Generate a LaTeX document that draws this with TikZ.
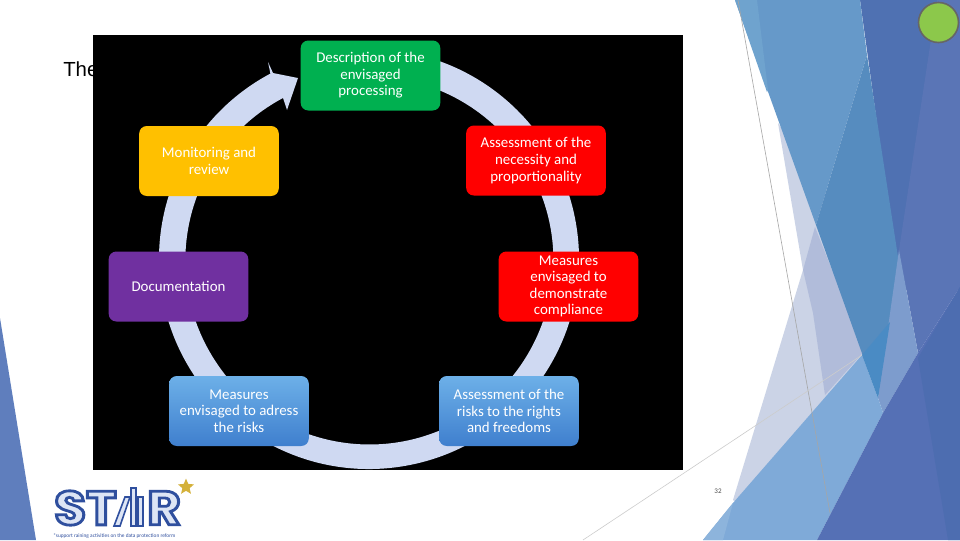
\documentclass[tikz,border=0pt]{standalone}
\usepackage{fontspec}
\usepackage{graphicx}
\setmainfont{Carlito}
\newfontfamily\titlefont{Liberation Sans}
\newfontfamily\logofont{Poppins}
\usetikzlibrary{shapes.geometric}
\definecolor{ringC}{HTML}{CFD9F2}
\definecolor{stepG}{HTML}{00B050}
\definecolor{stepR}{HTML}{FF0000}
\definecolor{stepO}{HTML}{FFC000}
\definecolor{stepP}{HTML}{7030A0}
\definecolor{stepT}{HTML}{6DB0E8}
\definecolor{stepB}{HTML}{3F7FCE}
\definecolor{logoB}{HTML}{2F4F9E}
\definecolor{logoL}{HTML}{DDE5F5}
\definecolor{starY}{HTML}{D4B13A}
\definecolor{dotG}{HTML}{8CC84B}
\definecolor{sideB}{HTML}{5F7EBD}
\definecolor{paleA}{HTML}{CBD3E6}
\definecolor{paleB}{HTML}{B1BCDA}
\definecolor{deepA}{HTML}{4F71B2}
\definecolor{deepB}{HTML}{5A75B6}
\definecolor{midA}{HTML}{6699C9}
\definecolor{midB}{HTML}{6FA3CE}
\definecolor{midC}{HTML}{568CBF}
\definecolor{midD}{HTML}{7D9CCD}
\definecolor{liteA}{HTML}{7FAAD8}
\definecolor{liteB}{HTML}{8DB4DC}
\definecolor{liteC}{HTML}{4A8BC4}
\definecolor{lowA}{HTML}{5570B5}
\definecolor{lowB}{HTML}{4D6DB0}
\newcommand{\logotext}[1]{\scalebox{1.08}[1]{\special{pdf:code 0.867 0.898 0.961 rg 0.184 0.31 0.62 RG 2 Tr 2 w}#1\special{pdf:code 0 Tr 1 w}}}
\begin{document}
\begin{tikzpicture}[x=0.25mm,y=-0.25mm,
  stepbox/.style={rounded corners=1.9mm,minimum width=34.9mm,minimum height=17.5mm,inner sep=0pt,align=center,text=white,font=\fontsize{10.6}{11.8}\selectfont},
  bluebox/.style={stepbox,top color=stepT,bottom color=stepB},
  logopart/.style={font=\logofont\bfseries\fontsize{34}{36}\selectfont,text=logoB,anchor=west,inner sep=0pt},
  bar/.style={draw=logoB,fill=logoL,line width=0.4mm},
  hair/.style={draw=#1,line width=0.15mm}]
\useasboundingbox (0,0) rectangle (960,540);
\fill[white] (0,0) rectangle (960,540);
% background facets
\fill[sideB] (0,318) -- (23,460) -- (36,540) -- (0,540) -- cycle;
\fill[paleA] (778,123) -- (830,200) -- (880,355) -- (745,510) -- (733,500) -- (803,270) -- cycle;
\fill[paleB] (815,227) -- (832,270) -- (870,345) -- (825,395) -- (813,313) -- (803,270) -- cycle;
\fill[deepA] (860,0) -- (960,0) -- (960,290) -- (900,290) -- cycle;
\fill[deepB] (937,0) -- (960,0) -- (960,287) -- (918,353) -- (899,250) -- cycle;
\fill[midA] (735,0) -- (860,0) -- (867,55) -- (816,225) -- cycle;
\fill[midB] (735,0) -- (757,0) -- (768,90) -- (767,92) -- cycle;
\fill[midC] (867,55) -- (900,270) -- (878,398) -- (816,225) -- cycle;
\fill[midD] (899,250) -- (918,353) -- (883,413) -- (878,398) -- cycle;
\fill[liteA] (703,540) -- (733,503) -- (862,355) -- (878,398) -- (883,413) -- (817,540) -- cycle;
\fill[liteB] (703,540) -- (733,503) -- (723,540) -- cycle;
\fill[liteC] (862,355) -- (890,322) -- (878,398) -- cycle;
\fill[lowA] (960,287) -- (918,353) -- (883,413) -- (817,540) -- (960,540) -- cycle;
\fill[lowB] (960,287) -- (918,358) -- (948,540) -- (960,540) -- cycle;
\coordinate (hairA) at (738,0);
\coordinate (hairB) at (830,513);
\coordinate (hairC) at (583,540);
\coordinate (hairD) at (862,355);
\draw[hair=black!35] (hairA) -- (hairB);
\draw[hair=black!20] (hairC) -- (hairD);
\node[circle,draw=black!60,line width=0.4mm,fill=dotG,minimum size=10mm,inner sep=0pt] (dot) at (938.5,22.5) {};
% slide
\node[font=\titlefont\fontsize{14.5}{16}\selectfont,anchor=west,inner sep=0pt] (title) at (63,69) {The};
\fill[black] (93,35) rectangle (683,470);
\coordinate (mid) at (369,259);
\fill[ringC] (mid) ++(-100:210) arc[start angle=-100,end angle=242,radius=210]
  -- (268,62) -- (273,73) -- (298,78) -- (287,110) -- (283,98)
  arc[start angle=242,end angle=-100,radius=184] -- cycle;
\node[stepbox,fill=stepG] (descr) at (370.5,75.5) {Description of the\\envisaged\\processing};
\node[stepbox,fill=stepR] (necess) at (536,160.5) {Assessment of the\\necessity and\\proportionality};
\node[stepbox,fill=stepR] (demo) at (568.5,286.5) {Measures\\envisaged to\\demonstrate\\compliance};
\node[bluebox] (rights) at (509,411) {Assessment of the\\risks to the rights\\and freedoms};
\node[bluebox] (adress) at (239,411) {Measures\\envisaged to adress\\the risks};
\node[stepbox,fill=stepP] (docu) at (178.5,286.5) {Documentation};
\node[stepbox,fill=stepO] (monit) at (209,161) {Monitoring and\\review};
\node[font=\fontsize{5}{6}\selectfont,text=black!70,inner sep=0pt] (pageno) at (718,491) {32};
% logo
\draw[bar] (114,526) -- (125,497) -- (130,497) -- (120,526) -- cycle;
\draw[bar] (131,526) rectangle (136,488);
\draw[bar] (138,526) rectangle (143,497);
\node[logopart] (logoS) at (54,508) {\logotext{ST}};
\node[logopart] (logoR) at (147,508) {\logotext{R}};
\node[star,star points=5,star point ratio=2.2,fill=starY,minimum size=4.2mm,inner sep=0pt] (logostar) at (186,487) {};
\node[font=\fontsize{3.8}{4}\selectfont,text=logoB,anchor=west,inner sep=0pt] (logocap) at (53,536) {*support raining activities on the data protection reform};
\end{tikzpicture}
\end{document}
